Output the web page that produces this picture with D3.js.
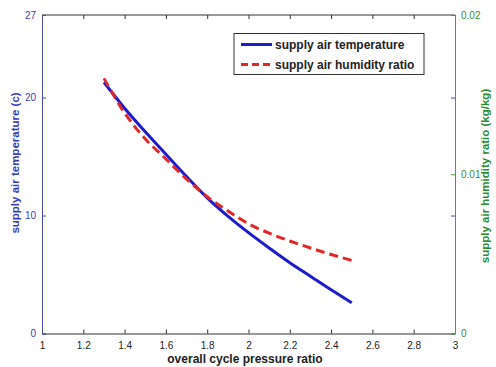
<!DOCTYPE html>
<html><head><meta charset="utf-8">
<script src="https://cdn.jsdelivr.net/npm/d3@7"></script>
<style>body{margin:0;background:#fff}svg{display:block}text{font-family:"Liberation Sans",Arial,sans-serif}</style>
</head><body><svg id="c" width="496" height="367"></svg>
<script>
const pressureRatio = [1.3,1.4,1.5,1.6,1.7,1.8,1.9,2.0,2.1,2.2,2.3,2.4,2.5];
const supplyTemp = [21.3,19.1,17.1,15.2,13.3,11.5,9.95,8.55,7.25,6.0,4.85,3.7,2.6];
const supplyHumidity = [0.01602,0.01385,0.01222,0.01096,0.00970,0.00859,0.00770,0.00689,0.00630,0.00581,0.00537,0.00496,0.00459];
const xTicks = [1,1.2,1.4,1.6,1.8,2,2.2,2.4,2.6,2.8,3];
const leftTicks = [0,10,20,27];
const rightTicks = [0,0.01,0.02];
const seriesNames = ["supply air temperature","supply air humidity ratio"];

const svg = d3.select("#c");
const L=42,R=455,T=15,B=333.5;
const x = d3.scaleLinear().domain([1,3]).range([L,R]);
const yL = d3.scaleLinear().domain([0,27]).range([B,T]);
const yR = d3.scaleLinear().domain([0,0.02]).range([B,T]);
const blueAx="#4848b0", greenAx="#4a9a4a", darkAx="#333";

svg.append("line").attr("x1",L).attr("x2",R).attr("y1",T).attr("y2",T).attr("stroke",darkAx);
const gx = svg.append("g").attr("transform",`translate(0,${B})`)
  .call(d3.axisBottom(x).tickValues(xTicks).tickSize(-4).tickPadding(8).tickFormat(d3.format("")));
gx.select(".domain").attr("stroke",darkAx);
gx.selectAll(".tick line").attr("stroke",darkAx);
gx.selectAll(".tick text").attr("fill","#222").attr("font-size",10);
svg.append("g").attr("transform",`translate(0,${T})`)
  .call(d3.axisTop(x).tickValues(xTicks).tickSize(-4).tickFormat(""))
  .call(g=>{g.select(".domain").remove();g.selectAll(".tick line").attr("stroke",darkAx);});
const gl = svg.append("g").attr("transform",`translate(${L},0)`)
  .call(d3.axisLeft(yL).tickValues(leftTicks).tickSize(-4).tickPadding(6).tickFormat(d3.format("d")));
gl.select(".domain").attr("stroke",blueAx);
gl.selectAll(".tick line").attr("stroke",blueAx);
gl.selectAll(".tick text").attr("fill","#4040b0").attr("font-size",10);
svg.append("g").attr("transform",`translate(${R},0)`)
  .call(d3.axisRight(yL).tickValues(leftTicks).tickSize(-4).tickFormat(""))
  .call(g=>{g.select(".domain").remove();g.selectAll(".tick line").attr("stroke",blueAx);});
const gr = svg.append("g").attr("transform",`translate(${R},0)`)
  .call(d3.axisRight(yR).tickValues(rightTicks).tickSize(-4).tickPadding(6).tickFormat(d=>d===0?"0":d3.format(".2")(d)));
gr.select(".domain").attr("stroke",greenAx);
gr.selectAll(".tick line").attr("stroke",greenAx);
gr.selectAll(".tick text").attr("fill","#3a8a3a").attr("font-size",10);

const data = pressureRatio.map((p,i)=>({p,t:supplyTemp[i],h:supplyHumidity[i]}));
svg.append("path").datum(data).attr("fill","none").attr("stroke","#1c1ccc").attr("stroke-width",3)
  .attr("d",d3.line().x(d=>x(d.p)).y(d=>yL(d.t)).curve(d3.curveCatmullRom));
svg.append("path").datum(data).attr("fill","none").attr("stroke","#e02828").attr("stroke-width",3)
  .attr("stroke-dasharray","9,5")
  .attr("d",d3.line().x(d=>x(d.p)).y(d=>yR(d.h)).curve(d3.curveCatmullRom));

svg.append("text").attr("x",245).attr("y",363).attr("text-anchor","middle").attr("font-weight","bold")
  .attr("font-size",12).attr("fill","#222").text("overall cycle pressure ratio");
svg.append("text").attr("transform","translate(19,163) rotate(-90)").attr("text-anchor","middle")
  .attr("font-weight","bold").attr("font-size",11.5).attr("fill","#3a3ac0").text("supply air temperature (c)");
svg.append("text").attr("transform","translate(489,176) rotate(-90)").attr("text-anchor","middle")
  .attr("font-weight","bold").attr("font-size",11.5).attr("fill","#2e8a2e").text("supply air humidity ratio (kg/kg)");

const lg = svg.append("g");
lg.append("rect").attr("x",234).attr("y",33.5).attr("width",190).attr("height",41)
  .attr("fill","#fff").attr("stroke","#333");
const cols=["#1c1ccc","#e02828"], dash=[null,"7,4"];
seriesNames.forEach((n,i)=>{
  const yy = 44.5+i*20;
  lg.append("line").attr("x1",241).attr("x2",272).attr("y1",yy).attr("y2",yy)
    .attr("stroke",cols[i]).attr("stroke-width",3).attr("stroke-dasharray",dash[i]);
  lg.append("text").attr("x",275).attr("y",yy+4).attr("font-size",12).attr("font-weight","bold")
    .attr("fill","#222").text(n);
});
</script></body></html>
